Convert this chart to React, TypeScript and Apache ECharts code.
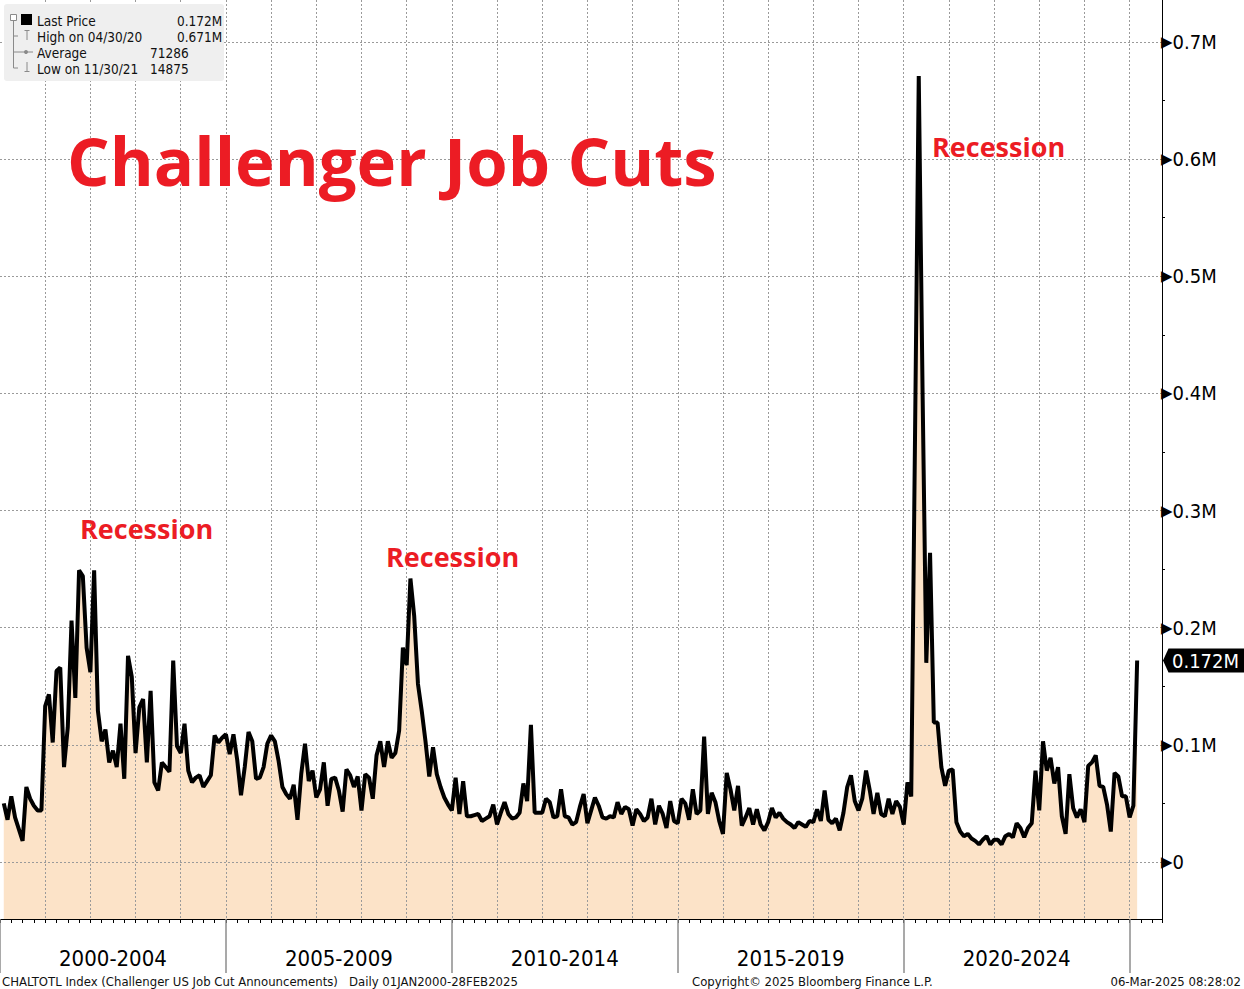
import React, { useEffect, useRef } from "react";
import * as echarts from "echarts";

// Challenger US job cut announcements, thousands, monthly Jan 2000 .. Feb 2025
const CUTS_2000_2004 = [
  50, 36, 56, 38, 28, 18, 64, 54, 48, 44, 44, 133,
  143, 102, 163, 166, 81, 115, 206, 140, 249, 244, 183, 162,
  249, 129, 103, 113, 85, 95, 81, 118, 71, 176, 158, 93,
  132, 139, 85, 146, 68, 61, 85, 81, 77, 172, 99, 93,
  118, 78, 68, 72, 74, 64, 69, 74, 108, 102, 106, 109,
];
const CUTS_2005_2009 = [
  92, 109, 87, 57, 81, 111, 103, 71, 72, 81, 101, 108,
  103, 86, 64, 58, 54, 66, 36, 75, 101, 69, 78, 55,
  62, 85, 48, 71, 72, 61, 43, 79, 74, 64, 73, 44,
  75, 72, 54, 91, 103, 81, 103, 89, 93, 112, 183, 168,
  242, 210, 152, 129, 103, 73, 98, 75, 64, 55, 49, 44,
];
const CUTS_2010_2014 = [
  72, 41, 69, 39, 39, 40, 41, 35, 37, 39, 49, 32,
  42, 51, 41, 37, 38, 42, 67, 52, 117, 42, 42, 42,
  54, 51, 38, 39, 62, 39, 38, 32, 34, 47, 58, 33,
  44, 55, 48, 38, 37, 39, 38, 51, 41, 47, 45, 31,
  45, 41, 35, 38, 54, 32, 48, 41, 29, 52, 35, 33,
];
const CUTS_2015_2019 = [
  54, 50, 36, 62, 41, 44, 107, 41, 59, 51, 35, 24,
  76, 62, 44, 65, 31, 38, 46, 32, 45, 32, 27, 34,
  46, 38, 42, 37, 34, 32, 29, 34, 32, 30, 35, 34,
  45, 35, 61, 36, 33, 37, 27, 42, 64, 74, 52, 44,
  54, 78, 61, 41, 59, 41, 39, 54, 41, 52, 47, 32,
];
const CUTS_2020_2025 = [
  68, 56, 360, 671, 405, 170, 264, 119, 119, 81, 65, 78,
  79, 34, 26, 22, 24, 20, 18, 15, 19, 22, 15, 19,
  19, 15, 22, 24, 21, 33, 29, 21, 29, 33, 78, 44,
  103, 78, 89, 67, 81, 39, 24, 75, 46, 38, 45, 34,
  82, 85, 91, 65, 64, 49, 26, 76, 73, 56, 56, 38,
  48, 172,
];
const JOB_CUTS_K = [
  ...CUTS_2000_2004,
  ...CUTS_2005_2009,
  ...CUTS_2010_2014,
  ...CUTS_2015_2019,
  ...CUTS_2020_2025,
];

const PERIOD_LABELS = ["2000-2004", "2005-2009", "2010-2014", "2015-2019", "2020-2024"];
const PERIOD_CENTERS = [30, 90, 150, 210, 270]; // months since Jan 2000
const PERIOD_BOUNDS = [0, 60, 120, 180, 240, 300];
const Y_MINOR_TICKS = [50, 150, 250, 350, 450, 550, 650];
const LEGEND_LABELS = ["Last Price", "High on 04/30/20", "Average", "Low on 11/30/21"];
const LEGEND_VALUES = ["0.172M", "0.671M", "71286", "14875"];
const LAST_PRICE_LABEL = "0.172M";
const TITLE = "Challenger Job Cuts";
const ANNOTATION = "Recession";

const UI_FONT = "'DejaVu Sans Condensed', 'DejaVu Sans', sans-serif";
const TITLE_FONT = "'Open Sans', 'Noto Sans', sans-serif";
const RED = "#ec1c24";
const GRID_COLOR = "#9a9a9a";

function yLabel(v: number): string {
  const r = Math.round(v);
  if (Math.abs(v - r) > 1e-6 || r % 100 !== 0) return "";
  const txt = r === 0 ? "0" : (r / 1000).toFixed(1) + "M";
  return "{t|\u25B6}{v|" + txt + "}";
}

function buildGraphic(lastY: number) {
  const g: any[] = [];
  // legend panel
  g.push({ type: "rect", shape: { x: 4, y: 4, width: 220, height: 77, r: 3 }, style: { fill: "#efefef" }, z: 10 });
  const gray = "#8a8a8a";
  const ln = (x1: number, y1: number, x2: number, y2: number) => ({
    type: "line",
    shape: { x1, y1, x2, y2 },
    style: { stroke: gray, lineWidth: 1 },
    z: 11,
  });
  g.push(ln(13.5, 21, 13.5, 68));
  g.push(ln(13.5, 36, 18, 36));
  g.push(ln(13.5, 52, 18, 52));
  g.push(ln(13.5, 68, 18, 68));
  g.push({ type: "rect", shape: { x: 10.5, y: 14.5, width: 6, height: 6 }, style: { fill: "#fff", stroke: gray, lineWidth: 1 }, z: 12 });
  g.push(ln(12, 17.5, 15, 17.5));
  g.push({ type: "rect", shape: { x: 21, y: 14, width: 11, height: 11 }, style: { fill: "#000" }, z: 11 });
  g.push(ln(24.5, 30.5, 29.5, 30.5));
  g.push(ln(27, 30.5, 27, 40));
  g.push(ln(18, 52, 33, 52));
  g.push({ type: "circle", shape: { cx: 26, cy: 52, r: 2 }, style: { fill: gray }, z: 11 });
  g.push(ln(27, 62, 27, 71.5));
  g.push(ln(24.5, 71.5, 29.5, 71.5));
  const rowsY = [20.5, 36.5, 52.5, 68.5];
  const valX = [177, 177, 150, 150];
  LEGEND_LABELS.forEach((t, k) => {
    g.push({
      type: "text", x: 37, y: rowsY[k], z: 11,
      style: { text: t, fill: "#111", fontSize: 13.5, fontFamily: UI_FONT, align: "left", verticalAlign: "middle" },
    });
    g.push({
      type: "text", x: valX[k], y: rowsY[k], z: 11,
      style: { text: LEGEND_VALUES[k], fill: "#111", fontSize: 13.5, fontFamily: UI_FONT, align: "left", verticalAlign: "middle" },
    });
  });
  // title
  g.push({
    type: "text", x: 67, y: 160, z: 11,
    style: { text: TITLE, fill: RED, fontSize: 67, fontWeight: "bold", fontFamily: TITLE_FONT, align: "left", verticalAlign: "middle" },
  });
  // annotations
  const ann = [[80, 528], [386, 556], [932, 146]];
  ann.forEach(([x, y]) => {
    g.push({
      type: "text", x, y, z: 11,
      style: { text: ANNOTATION, fill: RED, fontSize: 27, fontWeight: "bold", fontFamily: TITLE_FONT, align: "left", verticalAlign: "middle" },
    });
  });
  // last price marker
  g.push({
    type: "polygon", z: 11,
    shape: { points: [[1163, lastY], [1168.5, lastY - 12], [1244, lastY - 12], [1244, lastY + 12], [1168.5, lastY + 12]] },
    style: { fill: "#000" },
  });
  g.push({
    type: "text", x: 1172, y: lastY + 0.5, z: 12,
    style: { text: LAST_PRICE_LABEL, fill: "#fff", fontSize: 20, fontFamily: UI_FONT, align: "left", verticalAlign: "middle" },
  });
  // footer
  const foot = (text: string, x: number, align: string) => ({
    type: "text", x, y: 981, z: 11,
    style: { text, fill: "#111", fontSize: 13, fontFamily: UI_FONT, align, verticalAlign: "middle" },
  });
  g.push(foot("CHALTOTL Index (Challenger US Job Cut Announcements)", 2, "left"));
  g.push(foot("Daily 01JAN2000-28FEB2025", 349, "left"));
  g.push(foot("Copyright\u00A9 2025 Bloomberg Finance L.P.", 692, "left"));
  g.push(foot("06-Mar-2025 08:28:02", 1241, "right"));
  return g;
}

export default function App() {
  const ref = useRef<HTMLDivElement>(null);
  useEffect(() => {
    if (!ref.current) return;
    const chart = echarts.init(ref.current, null, { renderer: "svg" });
    // each monthly value is plotted at the end of its month
    const data = JOB_CUTS_K.map((v, k) => [k + 1, v]);
    const X_MAX = 308.6;
    const Y_MIN = -48.7;
    const Y_MAX = 735.9;
    const option: any = {
      animation: false,
      backgroundColor: "#ffffff",
      grid: { left: -3, right: 82, top: 0, bottom: 70, containLabel: false },
      xAxis: [
        {
          type: "value", min: 0, max: X_MAX, interval: 12, position: "bottom", z: 3,
          axisLine: { show: true, onZero: false, lineStyle: { color: "#000", width: 1 } },
          axisTick: { show: true, length: 4, lineStyle: { color: "#000" } },
          minorTick: { show: true, splitNumber: 4, length: 4, lineStyle: { color: "#000" } },
          axisLabel: { show: false },
          splitLine: { show: true, showMinLine: false, showMaxLine: false, lineStyle: { color: GRID_COLOR, type: [2, 2], width: 1 } },
        },
        {
          type: "value", min: 0, max: X_MAX, position: "bottom", z: 3,
          axisLine: { show: false, onZero: false },
          axisTick: { show: true, customValues: PERIOD_BOUNDS, length: 54, lineStyle: { color: "#8c8c8c", width: 1.5 } },
          axisLabel: { show: false },
          splitLine: { show: false },
        },
        {
          type: "value", min: 0, max: X_MAX, position: "bottom", z: 3,
          axisLine: { show: false, onZero: false },
          axisTick: { show: false },
          axisLabel: {
            show: true,
            customValues: PERIOD_CENTERS,
            margin: 28,
            color: "#000",
            fontSize: 22,
            fontFamily: UI_FONT,
            formatter: (v: number) => {
              const k = PERIOD_CENTERS.indexOf(Math.round(v));
              return k >= 0 ? PERIOD_LABELS[k] : "";
            },
          },
          splitLine: { show: false },
        },
      ],
      yAxis: [
        {
          type: "value", min: Y_MIN, max: Y_MAX, minInterval: 100, maxInterval: 100, position: "right", z: 3,
          axisLine: { show: true, onZero: false, lineStyle: { color: "#000", width: 1 } },
          axisTick: { show: false },
          axisLabel: {
            show: true,
            margin: -1,
            formatter: yLabel,
            rich: {
              t: { fontSize: 15, fontFamily: "'DejaVu Sans', sans-serif", color: "#000", padding: [0, 0, 0, 0] },
              v: { fontSize: 20, fontFamily: UI_FONT, color: "#000" },
            },
          },
          splitLine: { show: true, showMinLine: false, showMaxLine: false, lineStyle: { color: GRID_COLOR, type: [2, 2], width: 1 } },
        },
        {
          type: "value", min: Y_MIN, max: Y_MAX, position: "right", z: 3,
          axisLine: { show: false, onZero: false },
          axisTick: { show: true, customValues: Y_MINOR_TICKS, length: 3, lineStyle: { color: "#000" } },
          axisLabel: { show: false },
          splitLine: { show: false },
        },
      ],
      series: [
        {
          type: "line", name: "area", data, xAxisIndex: 0, yAxisIndex: 0, z: 1,
          symbol: "none", silent: true,
          lineStyle: { width: 0, opacity: 0 },
          areaStyle: { color: "#fce3c8", opacity: 1, origin: "start" },
        },
        {
          type: "line", name: "Last Price", data, xAxisIndex: 0, yAxisIndex: 0, z: 5,
          symbol: "none",
          lineStyle: { color: "#000", width: 4 },
        },
      ],
    };
    chart.setOption(option);
    const last = data[data.length - 1];
    const p = chart.convertToPixel({ gridIndex: 0 }, last) as number[];
    chart.setOption({ graphic: buildGraphic(p[1]) });
    return () => chart.dispose();
  }, []);
  return (
    <div
      ref={ref}
      style={{ position: "fixed", left: 0, top: 0, width: 1244, height: 989, background: "#fff" }}
    />
  );
}
